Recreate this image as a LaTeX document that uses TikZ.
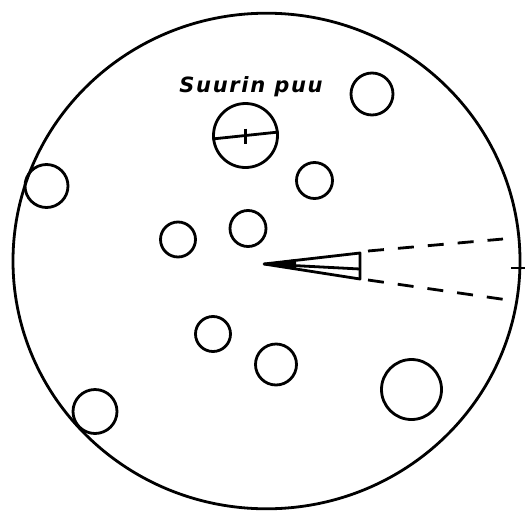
\documentclass[tikz,border=0pt]{standalone}
\usepackage{fontspec}
\newfontfamily\labelfont[LetterSpace=8]{DejaVu Sans}
\usetikzlibrary{calc}

\begin{document}
\begin{tikzpicture}[
    x=1pt, y=-1pt,
    tree/.style={circle, draw, line width=2.8pt, inner sep=0pt},
    rim/.style={line width=2.8pt},
    sight/.style={line width=2.8pt, dash pattern=on 16pt off 14pt}
]
    \useasboundingbox (0,0) rectangle (525,528);

    % koeala
    \draw[rim] (266.5,261) ellipse [x radius=253.5, y radius=247.8];
    \draw[rim] (511,268) -- (525,268);

    % puut
    \node[tree, minimum size=64pt] (big) at (245.5,135.5) {};
    \node[tree, minimum size=42pt] (t1) at (372,94) {};
    \node[tree, minimum size=43pt] (t2) at (46.5,186) {};
    \node[tree, minimum size=36pt] (t3) at (314.5,180.5) {};
    \node[tree, minimum size=36pt] (t4) at (248,228.5) {};
    \node[tree, minimum size=35pt] (t5) at (178,239.5) {};
    \node[tree, minimum size=35pt] (t6) at (213,334) {};
    \node[tree, minimum size=41pt] (t7) at (276,364.5) {};
    \node[tree, minimum size=60pt] (t8) at (411.5,389.5) {};
    \node[tree, minimum size=44pt] (t9) at (95,411.5) {};

    \draw[rim] (big.186) -- (big.6);
    \draw[rim] ($(big.center)+(0,-7)$) -- ($(big.center)+(0,8)$);
    \node[font=\labelfont\bfseries\itshape\fontsize{21}{21}\selectfont] (lbl) at (251,87) {Suurin puu};

    % relaskooppi
    \coordinate (apex) at (264,264);
    \coordinate (wtop) at (360,253);
    \coordinate (wbot) at (360,279);
    \coordinate (wmid) at (360,269);
    \draw[rim, line join=round] (apex) -- (wtop) -- (wbot) -- cycle;
    \draw[rim] (apex) -- (wmid);
    \fill (apex) -- (296,259) -- (296,269) -- cycle;

    \coordinate (u1) at (368,251);
    \coordinate (u2) at (503,239);
    \coordinate (l1) at (368,280);
    \coordinate (l2) at (508,300);
    \draw[sight] (u1) -- (u2);
    \draw[sight] (l1) -- (l2);
\end{tikzpicture}
\end{document}
